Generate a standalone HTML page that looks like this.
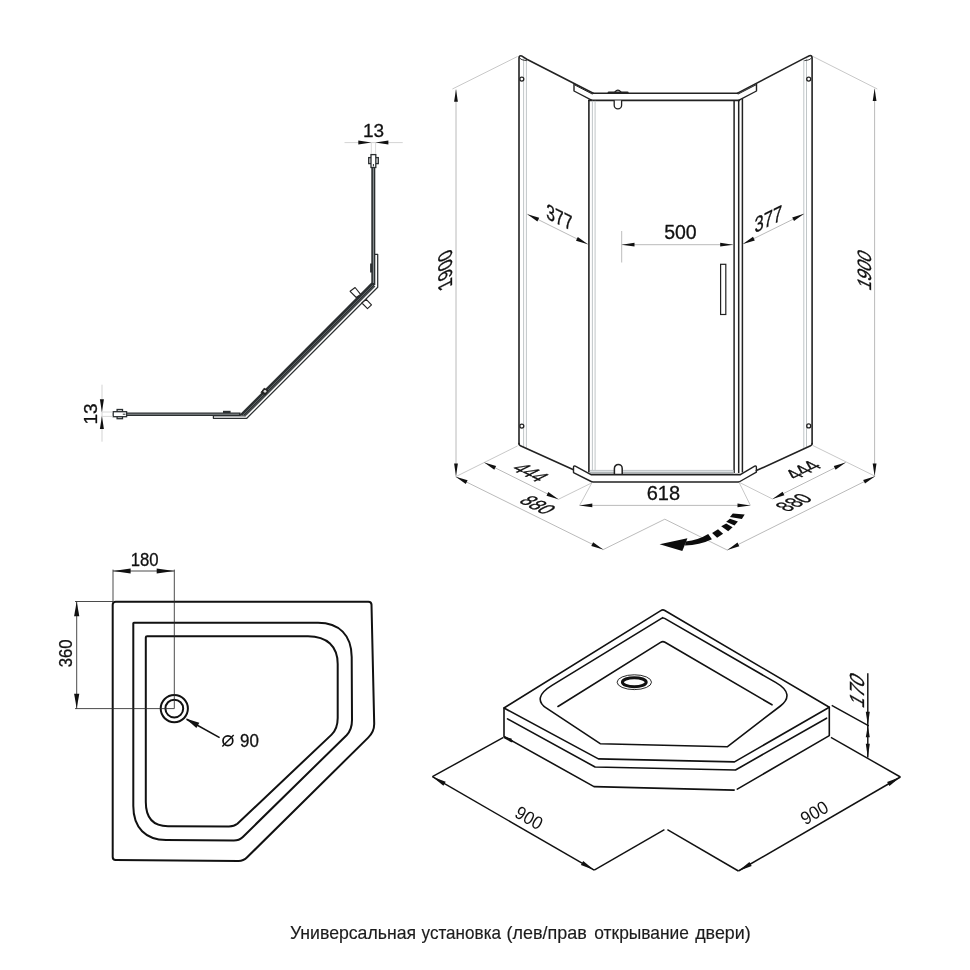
<!DOCTYPE html>
<html><head><meta charset="utf-8"><title>Shower enclosure drawing</title>
<style>html,body{margin:0;padding:0;background:#fff}svg{display:block;will-change:transform}text{font-family:"Liberation Sans",sans-serif;stroke:#111;stroke-width:0.3px;stroke-linejoin:round}</style></head><body>
<svg width="970" height="970" viewBox="0 0 970 970">
<rect width="970" height="970" fill="#fff"/>
<g id="profile">
<rect x="371.3" y="167" width="4" height="118" fill="#2b2f31"/>
<line x1="373.4" y1="167.5" x2="373.4" y2="283.0" stroke="#9aa0a3" stroke-width="0.9" />
<rect x="368.7" y="157.6" width="9.6" height="6" fill="#e6e6e6" stroke="#2b2f31" stroke-width="1.3"/>
<rect x="371" y="154.6" width="4.8" height="12.9" fill="#fff" stroke="#2b2f31" stroke-width="1.3"/>
<line x1="373.4" y1="164.0" x2="373.4" y2="166.4" stroke="#2b2f31" stroke-width="1.0" />
<path d="M375,254.3 H377.7 V287.3 L246.8,418.3 H213.4 V415.8" stroke="#2b2f31" stroke-width="1.25" fill="none" stroke-linejoin="round" stroke-linecap="round" />
<polygon points="371.4,282.6 375.4,286.5 246.4,415.6 239,415.2" fill="#2b2f31"/>
<path d="M372.8,285.2 L242.4,415.6" stroke="#7d8487" stroke-width="0.6" fill="none" stroke-linejoin="round" stroke-linecap="round" />
<path d="M374.1,286.4 L244.4,416.1" stroke="#7d8487" stroke-width="0.6" fill="none" stroke-linejoin="round" stroke-linecap="round" />
<rect x="370.1" y="263.5" width="2" height="9" fill="#2b2f31"/>
<rect x="126.6" y="412.5" width="114" height="3.5" fill="#2b2f31"/>
<line x1="127.0" y1="414.2" x2="239.0" y2="414.2" stroke="#9aa0a3" stroke-width="0.9" />
<line x1="213.4" y1="415.9" x2="246.0" y2="415.9" stroke="#2b2f31" stroke-width="1.0" />
<rect x="117.1" y="409.5" width="5.4" height="9.2" fill="#e6e6e6" stroke="#2b2f31" stroke-width="1.3"/>
<rect x="113.2" y="411.7" width="13.4" height="5" fill="#fff" stroke="#2b2f31" stroke-width="1.3"/>
<line x1="122.8" y1="414.2" x2="125.4" y2="414.2" stroke="#2b2f31" stroke-width="1.0" />
<rect x="223" y="410.8" width="7.6" height="2.2" fill="#2b2f31"/>
<path d="M350.1,291.3 L355.1,287.5 L360.6,294.4 L356.3,297.5 Z" stroke="#222" stroke-width="1.1" fill="#fff" stroke-linejoin="round" stroke-linecap="round" />
<path d="M361.9,303.0 L366.2,299.3 L371.5,304.9 L367.5,308.6 Z" stroke="#222" stroke-width="1.1" fill="#fff" stroke-linejoin="round" stroke-linecap="round" />
<path d="M261.2,392.2 L264.2,388.2 L268.2,390.8 L265.4,394.8 Z" stroke="#222" stroke-width="1" fill="#222" stroke-linejoin="round" stroke-linecap="round" />
<circle cx="265" cy="391.3" r="1.4" fill="#ddd"/>
<line x1="344.5" y1="142.6" x2="402.7" y2="142.6" stroke="#c8c8c8" stroke-width="0.8" />
<line x1="371.3" y1="142.6" x2="371.3" y2="154.0" stroke="#d0d0d0" stroke-width="0.8" />
<line x1="375.6" y1="142.6" x2="375.6" y2="154.0" stroke="#d0d0d0" stroke-width="0.8" />
<polygon points="371.3,142.6 358.3,144.6 358.3,140.6" fill="#111"/>
<polygon points="375.4,142.6 388.4,140.6 388.4,144.6" fill="#111"/>
<text transform="translate(373.6,130.6)" x="0" y="6.80" font-size="19" text-anchor="middle" fill="#111" >13</text>
<line x1="102.0" y1="384.7" x2="102.0" y2="441.7" stroke="#c8c8c8" stroke-width="0.8" />
<line x1="102.0" y1="412.0" x2="112.8" y2="412.0" stroke="#d0d0d0" stroke-width="0.8" />
<line x1="102.0" y1="416.4" x2="112.8" y2="416.4" stroke="#d0d0d0" stroke-width="0.8" />
<polygon points="101.9,412.3 99.9,399.3 103.9,399.3" fill="#111"/>
<polygon points="101.9,416.1 103.9,429.1 99.9,429.1" fill="#111"/>
<text transform="translate(90.4,414.0) rotate(-90)" x="0" y="6.80" font-size="19" text-anchor="middle" fill="#111" >13</text>
</g>
<g id="enclosure">
<line x1="523.6" y1="58.5" x2="523.6" y2="447.3" stroke="#b9bfc2" stroke-width="0.9" />
<line x1="526.4" y1="59.5" x2="526.4" y2="448.5" stroke="#b9bfc2" stroke-width="0.9" />
<path d="M519,444 V58.2 Q519,55.2 521.6,55.9 L526.8,59.2 L593.2,93.2" stroke="#222" stroke-width="1.6" fill="none" stroke-linejoin="round" stroke-linecap="round" />
<path d="M519,443.6 Q519,445.2 520.4,445.8 L573.5,469.8" stroke="#222" stroke-width="1.6" fill="none" stroke-linejoin="round" stroke-linecap="round" />
<path d="M519.4,57.6 Q520.2,59.6 523,60 L526.4,60.6" stroke="#222" stroke-width="0.9" fill="none" stroke-linejoin="round" stroke-linecap="round" />
<circle cx="521.8" cy="79.1" r="2" fill="#fff" stroke="#222" stroke-width="1.3"/>
<circle cx="521.8" cy="426.1" r="2" fill="#fff" stroke="#222" stroke-width="1.3"/>
<path d="M574,83.8 V91 L592,100.3" stroke="#222" stroke-width="1.4" fill="none" stroke-linejoin="round" stroke-linecap="round" />
<path d="M574.8,85 L592.2,94" stroke="#222" stroke-width="1.0" fill="none" stroke-linejoin="round" stroke-linecap="round" />
<path d="M593.2,93.2 H737.6 M588.7,100.4 H739.4" stroke="#222" stroke-width="1.6" fill="none" stroke-linejoin="round" stroke-linecap="round" />
<path d="M608.9,92.7 H627.4" stroke="#222" stroke-width="2.6" fill="none" stroke-linejoin="round" stroke-linecap="round" />
<path d="M614.8,92.2 Q617.9,88 621,92.2" stroke="#222" stroke-width="1.3" fill="none" stroke-linejoin="round" stroke-linecap="round" />
<path d="M614.2,100.6 V105.2 A3.7,3.7 0 0 0 621.6,105.2 V100.6" stroke="#222" stroke-width="1.3" fill="#fff" stroke-linejoin="round" stroke-linecap="round" />
<line x1="592.4" y1="100.8" x2="592.4" y2="471.0" stroke="#b9bfc2" stroke-width="0.9" />
<line x1="595.1" y1="100.8" x2="595.1" y2="471.0" stroke="#b9bfc2" stroke-width="0.9" />
<line x1="588.9" y1="100.4" x2="588.9" y2="472.4" stroke="#222" stroke-width="1.6" />
<line x1="734.1" y1="100.6" x2="734.1" y2="473.0" stroke="#222" stroke-width="1.5" />
<line x1="738.7" y1="100.6" x2="738.7" y2="473.0" stroke="#222" stroke-width="1.5" />
<line x1="742.4" y1="98.5" x2="742.4" y2="472.5" stroke="#222" stroke-width="1.5" />
<rect x="590" y="470.2" width="143.5" height="3.8" fill="#dde1e3"/>
<line x1="590.0" y1="470.4" x2="733.4" y2="470.4" stroke="#b9bfc2" stroke-width="0.9" />
<line x1="590.0" y1="472.6" x2="733.4" y2="472.6" stroke="#a4aaad" stroke-width="0.9" />
<path d="M614.4,474.3 V468.4 A3.9,3.9 0 0 1 622.2,468.4 V474.3" stroke="#222" stroke-width="1.5" fill="#fff" stroke-linejoin="round" stroke-linecap="round" />
<path d="M590.5,474.6 H741 M592.2,482 H739" stroke="#222" stroke-width="1.6" fill="none" stroke-linejoin="round" stroke-linecap="round" />
<path d="M590.5,474.4 L575.3,466.2 Q573.5,465.5 573.5,467.4 V472.6 L592.2,482" stroke="#222" stroke-width="1.4" fill="#fff" stroke-linejoin="round" stroke-linecap="round" />
<path d="M741.2,474.2 L754.7,466.2 Q756.4,465.4 756.4,467.3 V472.2 L739,482" stroke="#222" stroke-width="1.4" fill="#fff" stroke-linejoin="round" stroke-linecap="round" />
<rect x="720.6" y="264.3" width="5.2" height="50.2" fill="#fff" stroke="#222" stroke-width="1.2"/>
<line x1="803.8" y1="59.8" x2="803.8" y2="448.7" stroke="#b9bfc2" stroke-width="0.9" />
<line x1="806.5" y1="58.6" x2="806.5" y2="447.4" stroke="#b9bfc2" stroke-width="0.9" />
<path d="M812.1,444 V58 Q812.1,55 809.4,55.8 L803.6,58.6 L737.6,93.1" stroke="#222" stroke-width="1.6" fill="none" stroke-linejoin="round" stroke-linecap="round" />
<path d="M812.1,443.6 Q812.1,445.2 810.6,445.8 L756.4,470.6" stroke="#222" stroke-width="1.6" fill="none" stroke-linejoin="round" stroke-linecap="round" />
<path d="M811.7,57.6 Q810.9,59.6 808.1,60 L804.7,60.6" stroke="#222" stroke-width="0.9" fill="none" stroke-linejoin="round" stroke-linecap="round" />
<circle cx="808.7" cy="79.1" r="2" fill="#fff" stroke="#222" stroke-width="1.3"/>
<circle cx="808.7" cy="425.9" r="2" fill="#fff" stroke="#222" stroke-width="1.3"/>
<path d="M756.5,83.8 V91 L738.6,100.3" stroke="#222" stroke-width="1.4" fill="none" stroke-linejoin="round" stroke-linecap="round" />
<path d="M755.7,85 L738.2,94" stroke="#222" stroke-width="1.0" fill="none" stroke-linejoin="round" stroke-linecap="round" />
<line x1="456.0" y1="89.5" x2="456.0" y2="475.9" stroke="#b2b2b2" stroke-width="0.9" />
<polygon points="456.0,89.5 457.9,101.8 454.1,101.8" fill="#111"/>
<polygon points="456.0,475.9 454.1,463.6 457.9,463.6" fill="#111"/>
<line x1="517.5" y1="56.5" x2="452.4" y2="89.0" stroke="#c2c2c2" stroke-width="0.9" />
<line x1="517.6" y1="445.9" x2="455.7" y2="476.7" stroke="#c2c2c2" stroke-width="0.9" />
<line x1="874.6" y1="88.7" x2="874.6" y2="475.9" stroke="#b2b2b2" stroke-width="0.9" />
<polygon points="874.6,88.7 876.5,101.0 872.7,101.0" fill="#111"/>
<polygon points="874.6,475.9 872.7,463.6 876.5,463.6" fill="#111"/>
<line x1="813.0" y1="56.5" x2="877.3" y2="89.0" stroke="#c2c2c2" stroke-width="0.9" />
<line x1="812.6" y1="445.4" x2="875.1" y2="476.2" stroke="#c2c2c2" stroke-width="0.9" />
<line x1="527.3" y1="214.2" x2="587.9" y2="244.3" stroke="#b2b2b2" stroke-width="0.9" />
<polygon points="527.3,214.2 539.2,217.8 537.4,221.5" fill="#111"/>
<polygon points="587.9,244.3 576.0,240.7 577.8,237.0" fill="#111"/>
<line x1="742.9" y1="244.0" x2="804.1" y2="213.8" stroke="#b2b2b2" stroke-width="0.9" />
<polygon points="742.9,244.0 753.0,236.7 754.8,240.4" fill="#111"/>
<polygon points="804.1,213.8 794.0,221.1 792.2,217.4" fill="#111"/>
<line x1="621.7" y1="231.0" x2="621.7" y2="262.5" stroke="#b5b5b5" stroke-width="0.9" />
<line x1="621.7" y1="244.7" x2="733.0" y2="244.7" stroke="#b2b2b2" stroke-width="0.9" />
<polygon points="621.7,244.7 634.5,242.8 634.5,246.6" fill="#111"/>
<polygon points="733.0,244.7 720.2,246.6 720.2,242.8" fill="#111"/>
<line x1="484.2" y1="462.4" x2="558.4" y2="499.3" stroke="#b2b2b2" stroke-width="0.9" />
<polygon points="484.2,462.4 496.1,466.0 494.3,469.7" fill="#111"/>
<polygon points="558.4,499.3 546.5,495.7 548.3,492.0" fill="#111"/>
<line x1="558.4" y1="499.3" x2="590.9" y2="483.3" stroke="#c2c2c2" stroke-width="0.9" />
<line x1="455.7" y1="476.7" x2="603.2" y2="549.6" stroke="#b2b2b2" stroke-width="0.9" />
<polygon points="455.7,476.7 467.6,480.3 465.8,484.0" fill="#111"/>
<polygon points="603.2,549.6 591.3,546.0 593.1,542.3" fill="#111"/>
<path d="M603.2,549.6 L664.8,519.2 L727.5,550.2" stroke="#b4b4b4" stroke-width="0.9" fill="none" stroke-linejoin="round" stroke-linecap="round" />
<line x1="727.4" y1="549.9" x2="875.1" y2="476.2" stroke="#b2b2b2" stroke-width="0.9" />
<polygon points="727.4,549.9 737.5,542.6 739.3,546.2" fill="#111"/>
<polygon points="875.1,476.2 865.0,483.5 863.2,479.9" fill="#111"/>
<line x1="772.5" y1="499.0" x2="845.7" y2="462.4" stroke="#b2b2b2" stroke-width="0.9" />
<polygon points="772.5,499.0 782.6,491.7 784.4,495.3" fill="#111"/>
<polygon points="845.7,462.4 835.6,469.7 833.8,466.1" fill="#111"/>
<line x1="739.4" y1="482.4" x2="772.5" y2="499.0" stroke="#c2c2c2" stroke-width="0.9" />
<line x1="579.5" y1="505.4" x2="750.3" y2="505.4" stroke="#b2b2b2" stroke-width="0.9" />
<polygon points="579.5,505.4 592.3,503.5 592.3,507.3" fill="#111"/>
<polygon points="750.3,505.4 737.5,507.3 737.5,503.5" fill="#111"/>
<line x1="592.2" y1="482.2" x2="579.5" y2="505.6" stroke="#c2c2c2" stroke-width="0.9" />
<line x1="739.0" y1="482.2" x2="750.3" y2="505.2" stroke="#c2c2c2" stroke-width="0.9" />
<text transform="matrix(0.0000,-0.9400,1.0748,-0.5335,444.9,270.4)" x="0" y="6.62" font-size="18.5" text-anchor="middle" fill="#111" >1900</text>
<text transform="matrix(0.0000,-0.9300,1.0748,0.5335,863.9,269.5)" x="0" y="6.44" font-size="18" text-anchor="middle" fill="#111" >1900</text>
<text transform="matrix(0.8509,0.4224,0.0000,1.1800,559.4,217.0)" x="0" y="6.62" font-size="18.5" text-anchor="middle" fill="#111" >377</text>
<text transform="matrix(0.8957,-0.4446,0.0000,1.1800,768.4,218.6)" x="0" y="6.62" font-size="18.5" text-anchor="middle" fill="#111" >377</text>
<text transform="translate(680.4,232.4)" x="0" y="6.98" font-size="19.5" text-anchor="middle" fill="#111" >500</text>
<text transform="translate(663.4,492.5)" x="0" y="7.16" font-size="20" text-anchor="middle" fill="#111" >618</text>
<text transform="matrix(0.8420,0.4179,-1.0390,0.5157,530.7,472.3)" x="0" y="6.80" font-size="19" text-anchor="middle" fill="#111" >444</text>
<text transform="matrix(0.8330,0.4135,-1.0390,0.5157,537.9,504.8)" x="0" y="6.80" font-size="19" text-anchor="middle" fill="#111" >880</text>
<text transform="matrix(0.8420,-0.4179,1.0390,0.5157,802.6,469.9)" x="0" y="6.80" font-size="19" text-anchor="middle" fill="#111" >444</text>
<text transform="matrix(0.8330,-0.4135,1.0390,0.5157,793.5,502.3)" x="0" y="6.80" font-size="19" text-anchor="middle" fill="#111" >880</text>
<g fill="#0c0c0c">
<polygon points="659.6,544.2 687.4,538.3 685.4,543.6 682.3,551"/>
<path d="M685.6,541.6 Q698.5,540 708.2,534 L711.9,539.2 Q699.5,545.2 685,545.6 Z"/>
<polygon points="712.1,532.9 718,529.3 723.1,533.8 717.1,537.7"/>
<polygon points="721.2,526.3 726.2,523.6 732.6,527.2 728.2,531.2"/>
<polygon points="726.2,521.8 729.9,518.7 737.9,521.5 734.5,525.5"/>
<polygon points="729.9,517 732.8,513.4 744.7,514.5 741.9,519.1"/>
</g>
</g>
<g id="trayplan">
<path d="M115.7,601.7 H368.4 Q371.4,601.7 371.5,604.6 L374.2,723.5 Q374.4,731.5 368.2,737.6 L247.4,857 Q243.2,861.2 238.4,861.1 L115.7,860 Q112.7,860 112.7,857 V604.7 Q112.7,601.7 115.7,601.7 Z" stroke="#111" stroke-width="2.0" fill="none" stroke-linejoin="round" stroke-linecap="round" />
<path d="M133.9,622.7 H318 C339,622.7 351.6,635 351.7,657 L352,720 Q352,729.6 346.6,735.2 L242.6,837.2 Q239,840.6 233.6,840.5 L166,839.9 C146,839.9 133.3,828 133.3,806 V623.3 Q133.3,622.7 133.9,622.7 Z" stroke="#111" stroke-width="2.0" fill="none" stroke-linejoin="round" stroke-linecap="round" />
<path d="M147.2,636.2 H308 C327,636.2 337.7,646.5 337.7,664 V718 Q337.7,728.6 331.6,734.6 L237.4,823.8 Q234,826.6 228.6,826.5 L168,826.2 C153.5,826.2 145.8,818 145.8,802 V637.4 Q145.8,636.2 147.2,636.2 Z" stroke="#111" stroke-width="2.0" fill="none" stroke-linejoin="round" stroke-linecap="round" />
<circle cx="174.3" cy="708.6" r="13.6" fill="#fff" stroke="#111" stroke-width="2"/>
<circle cx="174.3" cy="708.6" r="8.9" fill="#fff" stroke="#111" stroke-width="2"/>
<line x1="113.0" y1="569.6" x2="113.0" y2="601.5" stroke="#2a2a2a" stroke-width="0.85" />
<line x1="174.3" y1="569.6" x2="174.3" y2="708.6" stroke="#2a2a2a" stroke-width="0.85" />
<line x1="113.0" y1="571.0" x2="174.3" y2="571.0" stroke="#2a2a2a" stroke-width="0.85" />
<polygon points="113.0,571.0 130.6,568.5 130.6,573.5" fill="#111"/>
<polygon points="174.3,571.0 156.7,573.5 156.7,568.5" fill="#111"/>
<text transform="translate(144.7,559.4) scale(0.95,1)" x="0" y="6.30" font-size="17.6" text-anchor="middle" fill="#111" >180</text>
<line x1="75.0" y1="601.5" x2="113.0" y2="601.5" stroke="#2a2a2a" stroke-width="0.85" />
<line x1="75.0" y1="708.6" x2="174.3" y2="708.6" stroke="#2a2a2a" stroke-width="0.85" />
<line x1="76.7" y1="601.5" x2="76.7" y2="708.6" stroke="#2a2a2a" stroke-width="0.85" />
<polygon points="76.7,601.5 79.3,616.3 74.1,616.3" fill="#111"/>
<polygon points="76.7,708.6 74.1,693.8 79.3,693.8" fill="#111"/>
<text transform="translate(65.6,653.3) rotate(-90) scale(0.95,1)" x="0" y="6.30" font-size="17.6" text-anchor="middle" fill="#111" >360</text>
<line x1="186.6" y1="719.2" x2="219.6" y2="737.6" stroke="#111" stroke-width="1.6" />
<polygon points="185.6,718.6 199.3,722.8 196.4,728.0" fill="#111"/>
<circle cx="227.9" cy="740.8" r="4.9" fill="none" stroke="#111" stroke-width="1.7"/>
<line x1="222.3" y1="746.6" x2="233.7" y2="735.0" stroke="#111" stroke-width="1.4" />
<text x="240" y="747" font-size="17.5" fill="#111" textLength="18.8" lengthAdjust="spacingAndGlyphs">90</text>
</g>
<g id="trayiso">
<path d="M504,708 L660.8,610.6 Q662.8,609.3 664.8,610.5 L829.3,707.2 L734.5,761.9 L598.4,758.9 Z" stroke="#111" stroke-width="1.6" fill="none" stroke-linejoin="round" stroke-linecap="round" />
<path d="M507.5,718.9 L595.1,767 L735.5,770 L826.6,718.2" stroke="#111" stroke-width="1.6" fill="none" stroke-linejoin="round" stroke-linecap="round" />
<path d="M504,708 V736.4 L594,786.6 L734.2,790.1 M737.3,789.1 L829.3,735.6 V707.2" stroke="#111" stroke-width="1.6" fill="none" stroke-linejoin="round" stroke-linecap="round" />
<path d="M662.8,617.6 L552,685.4 C538.5,693.6 536.5,701.4 546.5,708.2 L600.2,743.7 L727.2,746.8 L780.4,706 C790,698.6 789.6,690.4 775.6,682.4 L664.6,618.4 Q662.8,617.4 661,618.6" stroke="#111" stroke-width="1.6" fill="none" stroke-linejoin="round" stroke-linecap="round" />
<path d="M558,706.5 L660.6,642.4 Q662.8,641 665,642.3 L772,704.8" stroke="#111" stroke-width="1.6" fill="none" stroke-linejoin="round" stroke-linecap="round" />
<ellipse cx="634.3" cy="682.2" rx="17.2" ry="7.4" fill="#fff" stroke="#111" stroke-width="0.9"/>
<ellipse cx="634.3" cy="682.2" rx="11.9" ry="4.5" fill="#fff" stroke="#111" stroke-width="3"/>
<polygon points="505,737.2 511.6,740.8 511.6,738.4 505,737.2" fill="#111"/>
<path d="M505,737.6 L511.8,741.2" stroke="#111" stroke-width="2.2" fill="none" stroke-linejoin="round" stroke-linecap="round" />
<line x1="503.5" y1="737.4" x2="432.4" y2="776.7" stroke="#111" stroke-width="1.45" />
<line x1="432.4" y1="776.7" x2="594.2" y2="870.1" stroke="#111" stroke-width="1.45" />
<polygon points="432.4,776.7 445.7,781.7 443.4,785.7" fill="#111"/>
<polygon points="594.2,870.1 580.9,865.1 583.2,861.1" fill="#111"/>
<line x1="594.2" y1="870.1" x2="664.4" y2="829.6" stroke="#111" stroke-width="1.45" />
<line x1="667.4" y1="829.6" x2="738.4" y2="871.0" stroke="#111" stroke-width="1.45" />
<line x1="738.4" y1="871.0" x2="900.4" y2="777.0" stroke="#111" stroke-width="1.45" />
<polygon points="738.4,871.0 749.4,862.0 751.7,866.0" fill="#111"/>
<polygon points="900.4,777.0 889.4,786.0 887.1,782.0" fill="#111"/>
<line x1="830.9" y1="737.4" x2="900.4" y2="777.0" stroke="#111" stroke-width="1.45" />
<line x1="867.8" y1="673.2" x2="867.8" y2="757.5" stroke="#111" stroke-width="1.45" />
<line x1="831.7" y1="705.3" x2="868.8" y2="725.8" stroke="#111" stroke-width="1.45" />
<polygon points="867.8,725.2 865.8,711.7 869.8,711.7" fill="#111"/>
<polygon points="867.8,725.8 869.8,737.3 865.8,737.3" fill="#111"/>
<polygon points="867.8,757.5 865.8,743.7 869.8,743.7" fill="#111"/>
<text transform="translate(529.2,817.6) rotate(30) scale(0.92,1)" x="0" y="6.62" font-size="18.5" text-anchor="middle" fill="#111" style="stroke-width:0">900</text>
<text transform="translate(814.2,812.5) rotate(-30.5) scale(0.92,1)" x="0" y="6.62" font-size="18.5" text-anchor="middle" fill="#111" style="stroke-width:0">900</text>
<text transform="matrix(0.0000,-0.9200,1.0305,0.5950,856.4,689.5)" x="0" y="7.09" font-size="19.8" text-anchor="middle" fill="#111" >170</text>
</g>
<text x="289.9" y="938.5" font-size="18.4" fill="#1c1c1c" style="stroke-width:0.15px" textLength="126.2" lengthAdjust="spacingAndGlyphs">Универсальная</text>
<text x="421.6" y="938.5" font-size="18.4" fill="#1c1c1c" style="stroke-width:0.15px" textLength="79.4" lengthAdjust="spacingAndGlyphs">установка</text>
<text x="506.5" y="938.5" font-size="18.4" fill="#1c1c1c" style="stroke-width:0.15px" textLength="80.3" lengthAdjust="spacingAndGlyphs">(лев/прав</text>
<text x="594.3" y="938.5" font-size="18.4" fill="#1c1c1c" style="stroke-width:0.15px" textLength="94.7" lengthAdjust="spacingAndGlyphs">открывание</text>
<text x="695.2" y="938.5" font-size="18.4" fill="#1c1c1c" style="stroke-width:0.15px" textLength="55.5" lengthAdjust="spacingAndGlyphs">двери)</text>
</svg></body></html>
